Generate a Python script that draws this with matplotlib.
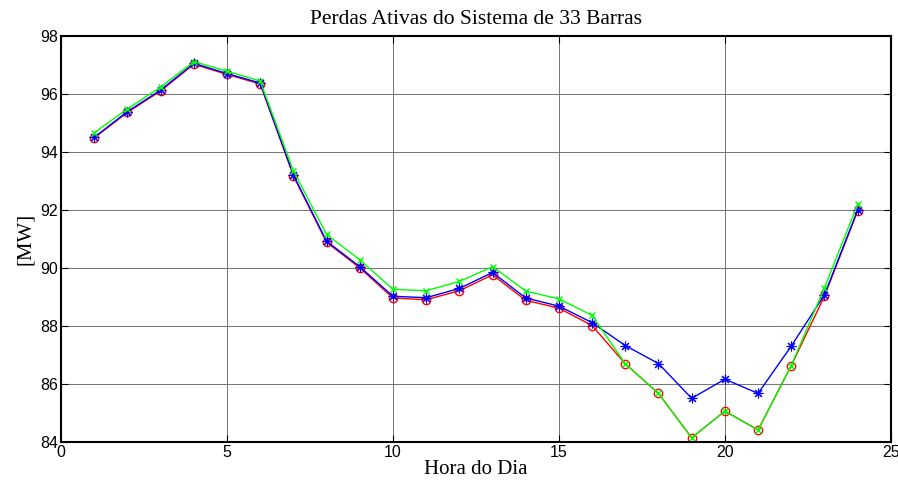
import numpy as np
import matplotlib.pyplot as plt

hours = np.arange(1, 25)

perdas_red = [94.49, 95.37, 96.11, 97.03, 96.68, 96.35, 93.18, 90.89, 90.01, 88.97,
              88.91, 89.22, 89.77, 88.89, 88.62, 88.02, 86.70, 85.68, 84.15, 85.07,
              84.42, 86.64, 89.03, 91.97]
perdas_blue = [94.51, 95.40, 96.14, 97.06, 96.71, 96.38, 93.21, 90.93, 90.05, 89.03,
               88.98, 89.30, 89.85, 88.97, 88.69, 88.12, 87.33, 86.71, 85.51, 86.17,
               85.68, 87.31, 89.08, 92.00]
perdas_green = [94.67, 95.49, 96.24, 97.12, 96.79, 96.45, 93.36, 91.16, 90.29, 89.27,
                89.22, 89.54, 90.05, 89.21, 88.94, 88.37, 86.70, 85.68, 84.15, 85.07,
                84.42, 86.64, 89.32, 92.20]

xticks = [0, 5, 10, 15, 20, 25]
yticks = [84, 86, 88, 90, 92, 94, 96, 98]

serif = ['Liberation Serif', 'DejaVu Serif']
sans = ['Liberation Sans', 'DejaVu Sans']

fig = plt.figure(figsize=(8.98, 4.88), dpi=100)
ax = fig.add_axes([0.068, 0.094, 0.924, 0.832])

ax.plot(hours, perdas_red, 'r-o', linewidth=1, markersize=6, markerfacecolor='none',
        markeredgewidth=1)
ax.plot(hours, perdas_blue, 'b-', marker=(8, 2, 0), linewidth=1, markersize=7,
        markeredgewidth=0.8)
ax.plot(hours, perdas_green, '-x', color='#00ff00', linewidth=1, markersize=4,
        markeredgewidth=1)

ax.set_xlim(0, 25)
ax.set_ylim(84, 98)
ax.set_xticks(xticks)
ax.set_yticks(yticks)
ax.grid(True, color='0.45', linewidth=0.7)
ax.tick_params(direction='in', length=5, top=True, right=True, labelsize=11.5, pad=2)
for lab in ax.get_xticklabels() + ax.get_yticklabels():
    lab.set_family(sans)
for sp in ax.spines.values():
    sp.set_linewidth(1.5)

ax.set_title('Perdas Ativas do Sistema de 33 Barras', family=serif, fontsize=15.5, pad=9)
ax.set_xlabel('Hora do Dia', family=serif, fontsize=15, labelpad=0)
ax.set_ylabel('[MW]', family=serif, fontsize=15, labelpad=4)

fig.savefig('out.png', dpi=100)
